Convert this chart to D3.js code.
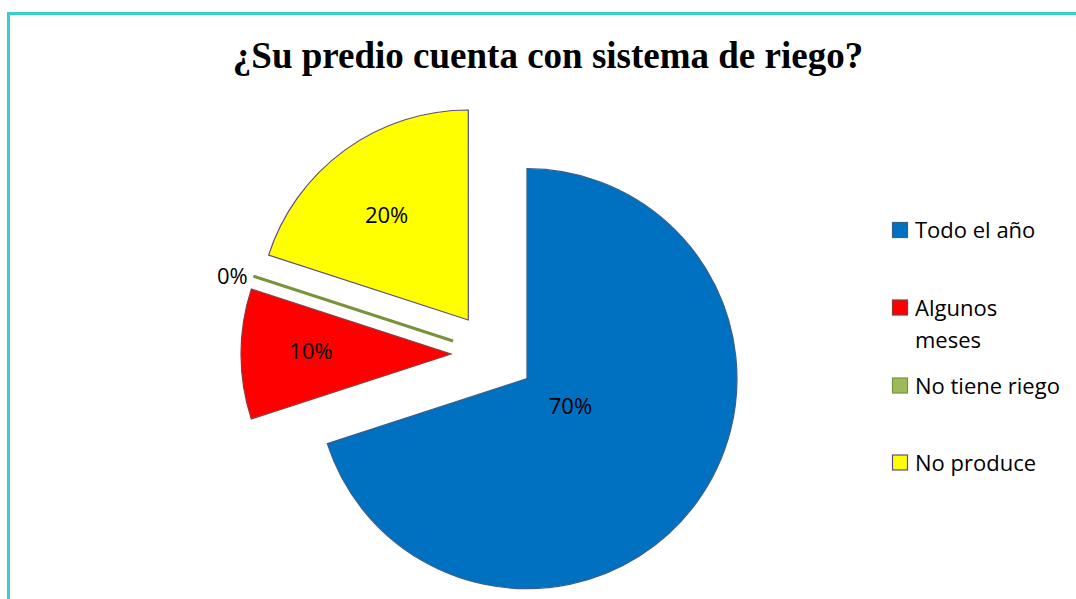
<!DOCTYPE html>
<html>
<head>
<meta charset="utf-8">
<script src="https://cdn.jsdelivr.net/npm/d3@7"></script>
<style>
  body { margin: 0; background: #fff; }
  svg { display: block; }
</style>
</head>
<body>
<svg id="chart" width="1076" height="599"></svg>
<script>
// Data
const categories = ["Todo el año", "Algunos meses", "No tiene riego", "No produce"];
const values = [70, 10, 0, 20];
const pctLabels = ["70%", "10%", "0%", "20%"];
const legendLines = [["Todo el año"], ["Algunos", "meses"], ["No tiene riego"], ["No produce"]];

const fills = ["#0070C0", "#FF0000", "#9BBB59", "#FFFF00"];
const strokes = ["#3A5F8C", "#8C3A3A", "#77933C", "#5F4B8B"];

const width = 1076, height = 599;
const svg = d3.select("#chart");

// teal frame (runs off the right and bottom of the picture)
svg.append("rect")
    .attr("x", 8.5).attr("y", 13.5)
    .attr("width", 1100).attr("height", 700)
    .attr("fill", "none")
    .attr("stroke", "#3ACFCF")
    .attr("stroke-width", 3);

svg.append("text")
    .attr("x", 548).attr("y", 68)
    .attr("text-anchor", "middle")
    .style("font-family", "'Liberation Serif', 'Times New Roman', serif")
    .style("font-weight", "bold")
    .style("font-size", "37px")
    .text("¿Su predio cuenta con sistema de riego?");

const cx = 493, cy = 354, r = 210, explode = 42;

const pie = d3.pie().sort(null).value(d => d)
    .startAngle(0).endAngle(2 * Math.PI);
const arcs = pie(values);
const arc = d3.arc().innerRadius(0).outerRadius(r);

// label placement: distance from slice apex, plus a small nudge (Excel best fit)
const labelDist = [50, 140, 232, 134];
const labelNudge = [[3, -3], [0, -4], [0, 6], [-3, 2]];

const g = svg.append("g").attr("transform", `translate(${cx},${cy})`);

function dir(d) {
    const a = (d.startAngle + d.endAngle) / 2;
    return [Math.sin(a), -Math.cos(a)];
}

const slice = g.selectAll("g.slice")
    .data(arcs)
    .join("g")
    .attr("class", "slice")
    .attr("transform", d => {
        const [dx, dy] = dir(d);
        return `translate(${dx * explode},${dy * explode})`;
    });

slice.append("path")
    .attr("d", arc)
    .attr("fill", (d, i) => fills[i])
    .attr("stroke", (d, i) => strokes[i])
    .attr("stroke-width", (d, i) => d.value === 0 ? 3 : 1.2)
    .attr("stroke-linejoin", "miter");

slice.append("text")
    .attr("x", (d, i) => dir(d)[0] * labelDist[i] + labelNudge[i][0])
    .attr("y", (d, i) => dir(d)[1] * labelDist[i] + labelNudge[i][1])
    .attr("text-anchor", "middle")
    .attr("dominant-baseline", "central")
    .style("font-family", "'Open Sans', 'Noto Sans', sans-serif")
    .style("font-size", "22px")
    .attr("fill", "#000")
    .text((d, i) => pctLabels[i]);

// legend
const legendY = [230, 307.5, 385.5, 462.5];
const lg = svg.append("g");
categories.forEach((c, i) => {
    lg.append("rect")
        .attr("x", 892.5).attr("y", legendY[i] - 7.5)
        .attr("width", 15).attr("height", 15)
        .attr("fill", fills[i])
        .attr("stroke", strokes[i])
        .attr("stroke-width", 1.2);
    const t = lg.append("text")
        .attr("x", 915).attr("y", legendY[i] + 8)
        .style("font-family", "'Open Sans', 'Noto Sans', sans-serif")
        .style("font-size", "22px")
        .attr("fill", "#000");
    legendLines[i].forEach((line, j) => {
        t.append("tspan").attr("x", 915).attr("dy", j === 0 ? 0 : 32).text(line);
    });
});
</script>
</body>
</html>
